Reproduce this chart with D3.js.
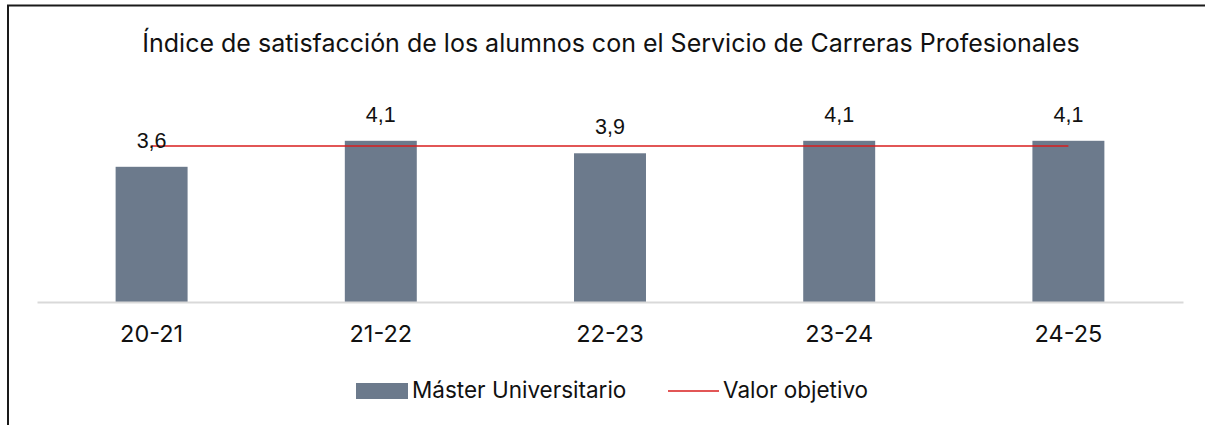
<!DOCTYPE html>
<html>
<head>
<meta charset="utf-8">
<script src="https://cdn.jsdelivr.net/npm/d3@7"></script>
<style>
    body { margin: 0; background: #fff; }
    text { fill: #111; }
    .cat, .title, .legend { font-family: Inter, "Noto Sans", sans-serif; }
    .lbl { font-family: "Liberation Sans", Arial, sans-serif; }
</style>
</head>
<body>
<div id="chart"></div>
<script>
// chart data
const seasons = ["20-21", "21-22", "22-23", "23-24", "24-25"];
const satisfaction = [3.6, 4.1, 3.86, 4.1, 4.1];
const target = 4.0;
const seriesNames = ["Máster Universitario", "Valor objetivo"];
const chartTitle = "Índice de satisfacción de los alumnos con el Servicio de Carreras Profesionales";

const width = 1210, height = 425;
const barColor = "#6c7a8c", lineColor = "#d81e1e";

let svg = d3.select("#chart").append("svg")
    .attr("width", width)
    .attr("height", height);

// frame (only top and left edges are visible)
svg.append("path")
    .attr("d", "M8,425 L8,5.5 L1205,5.5")
    .attr("fill", "none")
    .attr("stroke", "#1a1a1a")
    .attr("stroke-width", 2);

svg.append("text")
    .attr("class", "title")
    .attr("x", 611)
    .attr("y", 52)
    .attr("text-anchor", "middle")
    .style("font-size", "25px")
    .text(chartTitle);

// scales
let x = d3.scaleBand()
    .domain(seasons)
    .range([37, 1183])
    .paddingInner(0.686)
    .paddingOuter(0.343);

let y = d3.scaleLinear()
    .domain([1, 5])
    .range([302, 94]);

let data = seasons.map((s, i) => ({ season: s, value: satisfaction[i] }));

// bars
svg.append("g")
    .selectAll("rect")
    .data(data)
    .enter()
    .append("rect")
    .attr("x", d => x(d.season))
    .attr("y", d => y(d.value))
    .attr("width", x.bandwidth())
    .attr("height", d => y(y.domain()[0]) - y(d.value))
    .attr("fill", barColor);

// baseline axis
let xAxis = svg.append("g")
    .attr("transform", "translate(0," + y(y.domain()[0]) + ")")
    .call(d3.axisBottom(x).tickSize(0).tickPadding(23));
xAxis.select(".domain").attr("stroke", "#d9d9d9").attr("stroke-width", 2);
xAxis.selectAll("text")
    .attr("class", "cat")
    .style("font-size", "23.5px")
    .attr("fill", "#111");

// target line, center to center
svg.append("line")
    .attr("x1", x(seasons[0]) + x.bandwidth() / 2)
    .attr("x2", x(seasons[seasons.length - 1]) + x.bandwidth() / 2)
    .attr("y1", y(target))
    .attr("y2", y(target))
    .attr("stroke", lineColor)
    .attr("stroke-width", 1.3);

// value labels
let fmt = v => d3.format(".1f")(v).replace(".", ",");
svg.append("g")
    .selectAll("text")
    .data(data)
    .enter()
    .append("text")
    .attr("class", "lbl")
    .attr("x", d => x(d.season) + x.bandwidth() / 2)
    .attr("y", d => y(d.value) - 19)
    .attr("text-anchor", "middle")
    .style("font-size", "21.5px")
    .text(d => fmt(d.value));

// legend
let legend = svg.append("g").attr("class", "legend");
legend.append("rect")
    .attr("x", 356).attr("y", 383)
    .attr("width", 52).attr("height", 16)
    .attr("fill", barColor);
legend.append("text")
    .attr("x", 412).attr("y", 398)
    .style("font-size", "22.5px")
    .text(seriesNames[0]);
legend.append("line")
    .attr("x1", 668).attr("x2", 719)
    .attr("y1", 391).attr("y2", 391)
    .attr("stroke", lineColor)
    .attr("stroke-width", 1.3);
legend.append("text")
    .attr("x", 723).attr("y", 398)
    .style("font-size", "22.5px")
    .text(seriesNames[1]);
</script>
</body>
</html>
